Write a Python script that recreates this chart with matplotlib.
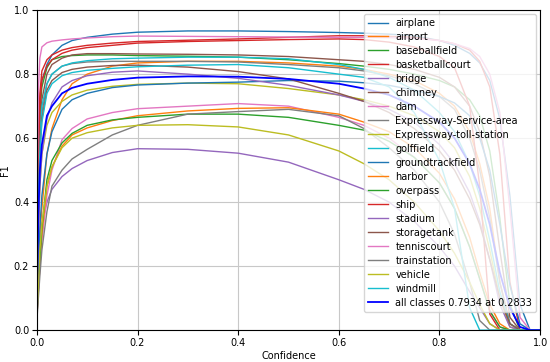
import matplotlib
matplotlib.use("Agg")
import matplotlib.pyplot as plt

# confidence grid the curves were read at
conf = [0.0, 0.003, 0.006, 0.01, 0.02, 0.03, 0.05, 0.07, 0.1, 0.15, 0.2, 0.3, 0.4, 0.5,
        0.6, 0.65, 0.7, 0.75, 0.8, 0.83, 0.86, 0.88, 0.9, 0.92, 0.94, 0.96, 0.98, 1.0]

names = ["airplane", "airport", "baseballfield", "basketballcourt", "bridge", "chimney",
         "dam", "Expressway-Service-area", "Expressway-toll-station", "golffield",
         "groundtrackfield", "harbor", "overpass", "ship", "stadium", "storagetank",
         "tenniscourt", "trainstation", "vehicle", "windmill"]

airplane = [0.15, 0.55, 0.70, 0.78, 0.83, 0.86, 0.89, 0.905, 0.915, 0.925, 0.931, 0.935, 0.935, 0.933,
            0.93, 0.928, 0.925, 0.92, 0.905, 0.89, 0.865, 0.835, 0.78, 0.66, 0.42, 0.08, 0.0, 0.0]
airport = [0.08, 0.22, 0.30, 0.38, 0.55, 0.63, 0.72, 0.77, 0.80, 0.825, 0.835, 0.84, 0.84, 0.835,
           0.825, 0.815, 0.80, 0.78, 0.74, 0.70, 0.62, 0.52, 0.38, 0.15, 0.02, 0.0, 0.0, 0.0]
baseballfield = [0.15, 0.50, 0.68, 0.76, 0.82, 0.845, 0.855, 0.858, 0.86, 0.86, 0.858, 0.856, 0.853, 0.845,
                 0.833, 0.825, 0.815, 0.80, 0.78, 0.76, 0.72, 0.67, 0.56, 0.35, 0.08, 0.0, 0.0, 0.0]
basketballcourt = [0.2, 0.60, 0.74, 0.81, 0.845, 0.86, 0.875, 0.883, 0.89, 0.897, 0.902, 0.906, 0.91, 0.915,
                   0.92, 0.92, 0.918, 0.915, 0.905, 0.895, 0.875, 0.84, 0.76, 0.55, 0.15, 0.0, 0.0, 0.0]
bridge = [0.05, 0.15, 0.25, 0.33, 0.40, 0.44, 0.48, 0.505, 0.53, 0.555, 0.567, 0.565, 0.553, 0.525,
          0.47, 0.44, 0.40, 0.34, 0.26, 0.20, 0.12, 0.07, 0.02, 0.0, 0.0, 0.0, 0.0, 0.0]
chimney = [0.1, 0.45, 0.62, 0.72, 0.80, 0.83, 0.85, 0.86, 0.864, 0.864, 0.863, 0.862, 0.86, 0.855,
           0.845, 0.84, 0.83, 0.815, 0.79, 0.76, 0.70, 0.62, 0.48, 0.25, 0.04, 0.0, 0.0, 0.0]
dam = [0.04, 0.12, 0.20, 0.28, 0.42, 0.50, 0.595, 0.63, 0.66, 0.68, 0.692, 0.70, 0.708, 0.70,
       0.665, 0.64, 0.60, 0.54, 0.46, 0.38, 0.26, 0.16, 0.06, 0.01, 0.0, 0.0, 0.0, 0.0]
service_area = [0.1, 0.40, 0.58, 0.68, 0.77, 0.80, 0.825, 0.833, 0.838, 0.84, 0.84, 0.84, 0.838, 0.83,
                0.82, 0.81, 0.795, 0.77, 0.73, 0.69, 0.60, 0.50, 0.35, 0.15, 0.02, 0.0, 0.0, 0.0]
toll_station = [0.08, 0.30, 0.45, 0.55, 0.64, 0.68, 0.715, 0.735, 0.75, 0.762, 0.768, 0.772, 0.77, 0.755,
                0.735, 0.72, 0.70, 0.67, 0.62, 0.57, 0.48, 0.38, 0.25, 0.10, 0.01, 0.0, 0.0, 0.0]
golffield = [0.1, 0.42, 0.60, 0.70, 0.77, 0.80, 0.825, 0.835, 0.842, 0.848, 0.85, 0.853, 0.853, 0.848,
             0.83, 0.815, 0.79, 0.75, 0.68, 0.62, 0.52, 0.42, 0.28, 0.12, 0.02, 0.0, 0.0, 0.0]
groundtrackfield = [0.05, 0.20, 0.32, 0.42, 0.55, 0.62, 0.69, 0.72, 0.74, 0.758, 0.766, 0.772, 0.775, 0.78,
                    0.778, 0.773, 0.765, 0.75, 0.73, 0.71, 0.67, 0.60, 0.50, 0.33, 0.14, 0.02, 0.0, 0.0]
harbor = [0.04, 0.12, 0.20, 0.30, 0.45, 0.51, 0.575, 0.61, 0.632, 0.655, 0.67, 0.685, 0.693, 0.695,
          0.675, 0.65, 0.62, 0.57, 0.49, 0.41, 0.29, 0.18, 0.08, 0.02, 0.0, 0.0, 0.0, 0.0]
overpass = [0.04, 0.13, 0.22, 0.32, 0.47, 0.53, 0.585, 0.615, 0.64, 0.657, 0.665, 0.675, 0.675, 0.665,
            0.64, 0.625, 0.59, 0.54, 0.46, 0.38, 0.26, 0.16, 0.06, 0.01, 0.0, 0.0, 0.0, 0.0]
ship = [0.15, 0.55, 0.70, 0.78, 0.825, 0.845, 0.865, 0.875, 0.883, 0.89, 0.897, 0.902, 0.905, 0.908,
        0.91, 0.908, 0.90, 0.885, 0.855, 0.82, 0.70, 0.45, 0.05, 0.0, 0.0, 0.0, 0.0, 0.0]
stadium = [0.08, 0.30, 0.45, 0.55, 0.66, 0.71, 0.76, 0.78, 0.795, 0.806, 0.81, 0.80, 0.787, 0.765,
           0.735, 0.715, 0.69, 0.65, 0.58, 0.52, 0.43, 0.34, 0.22, 0.08, 0.01, 0.0, 0.0, 0.0]
storagetank = [0.1, 0.40, 0.56, 0.66, 0.75, 0.78, 0.805, 0.815, 0.822, 0.827, 0.828, 0.822, 0.808, 0.785,
               0.74, 0.715, 0.68, 0.63, 0.56, 0.50, 0.41, 0.33, 0.22, 0.10, 0.02, 0.0, 0.0, 0.0]
tenniscourt = [0.3, 0.75, 0.85, 0.885, 0.898, 0.903, 0.907, 0.91, 0.913, 0.917, 0.919, 0.918, 0.917, 0.916,
               0.915, 0.915, 0.914, 0.912, 0.905, 0.895, 0.88, 0.855, 0.80, 0.68, 0.38, 0.04, 0.0, 0.0]
trainstation = [0.03, 0.10, 0.17, 0.25, 0.37, 0.45, 0.50, 0.535, 0.565, 0.61, 0.64, 0.675, 0.683, 0.69,
                0.67, 0.63, 0.57, 0.50, 0.40, 0.30, 0.15, 0.03, 0.0, 0.0, 0.0, 0.0, 0.0, 0.0]
vehicle = [0.05, 0.15, 0.25, 0.33, 0.45, 0.51, 0.57, 0.60, 0.617, 0.632, 0.64, 0.642, 0.635, 0.61,
           0.56, 0.52, 0.47, 0.40, 0.31, 0.24, 0.15, 0.08, 0.02, 0.0, 0.0, 0.0, 0.0, 0.0]
windmill = [0.1, 0.38, 0.55, 0.65, 0.74, 0.77, 0.795, 0.805, 0.812, 0.818, 0.823, 0.828, 0.83, 0.82,
            0.80, 0.79, 0.76, 0.68, 0.53, 0.38, 0.07, 0.0, 0.0, 0.0, 0.0, 0.0, 0.0, 0.0]
all_classes = [0.1, 0.37, 0.50, 0.58, 0.67, 0.70, 0.74, 0.757, 0.77, 0.782, 0.789, 0.793, 0.792, 0.785,
               0.77, 0.755, 0.735, 0.70, 0.65, 0.60, 0.52, 0.44, 0.33, 0.18, 0.07, 0.01, 0.0, 0.0]

curves = [airplane, airport, baseballfield, basketballcourt, bridge, chimney, dam,
          service_area, toll_station, golffield, groundtrackfield, harbor, overpass, ship,
          stadium, storagetank, tenniscourt, trainstation, vehicle, windmill]

fig = plt.figure(figsize=(5.5, 3.62), dpi=100)
ax = fig.add_axes([0.067, 0.088, 0.915, 0.884])

for name, f1 in zip(names, curves):
    ax.plot(conf, f1, linewidth=1.0, label=name)
ax.plot(conf, all_classes, linewidth=1.3, color="blue", label="all classes 0.7934 at 0.2833")

ax.set_xlim(0, 1)
ax.set_ylim(0, 1)
ax.grid(True, color="#c8c8c8", linewidth=0.8)
ax.tick_params(labelsize=7, pad=2)
ax.set_xlabel("Confidence", fontsize=7, labelpad=2)
ax.set_ylabel("F1", fontsize=7, labelpad=3)
ax.legend(loc="upper right", fontsize=7, labelspacing=0.41, borderaxespad=0.4)

fig.savefig("out.png", dpi=100)
